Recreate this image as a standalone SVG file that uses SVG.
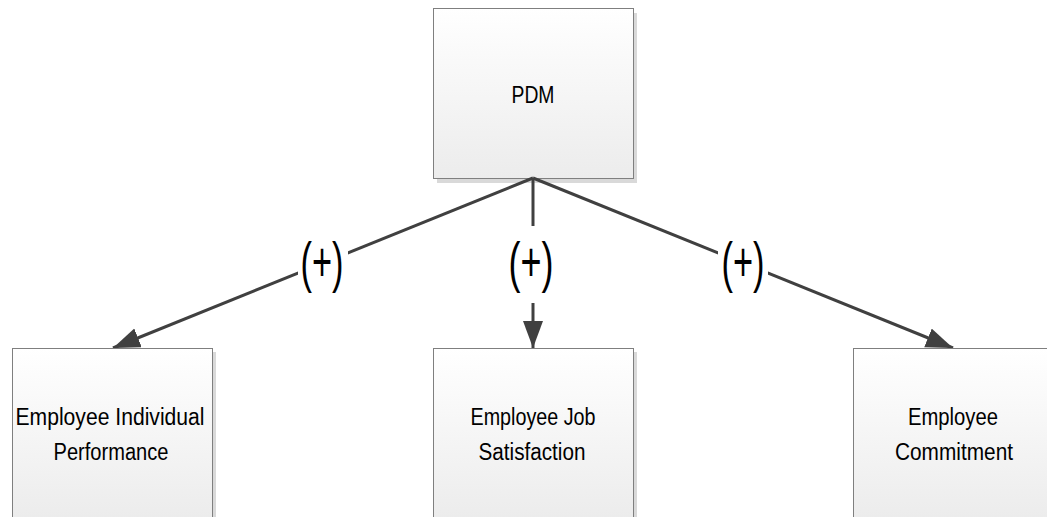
<svg xmlns="http://www.w3.org/2000/svg" width="1047" height="517" viewBox="0 0 1047 517">
  <style>
    .box { fill: url(#boxFill); stroke: #7f7f7f; stroke-width: 1; }
    .shadow { fill: #d9d9d9; }
    .label { font-family: "Liberation Sans", Arial, sans-serif; font-size: 23px; fill: #000; text-anchor: middle; }
    .sign { font-family: "Liberation Sans", Arial, sans-serif; font-size: 56px; fill: #000; text-anchor: middle; }
    .edge { stroke: #404040; stroke-width: 3; fill: none; }
    .gap { fill: #ffffff; }
  </style>
  <defs>
    <linearGradient id="boxFill" x1="0" y1="0" x2="0" y2="1">
      <stop offset="0" stop-color="#ffffff"/>
      <stop offset="1" stop-color="#ececec"/>
    </linearGradient>
    <marker id="head" markerUnits="userSpaceOnUse" markerWidth="28" markerHeight="22" refX="27" refY="10" orient="auto">
      <path d="M0,0 L27,10 L0,20 Z" fill="#404040"/>
    </marker>
  </defs>

  <rect width="1047" height="517" fill="#ffffff"/>

  <!-- source node -->
  <g id="node-pdm">
    <rect class="shadow" x="437" y="13" width="200" height="170"/>
    <rect class="box" x="433.5" y="8.5" width="200" height="170"/>
    <text class="label" x="533" y="103" textLength="43" lengthAdjust="spacingAndGlyphs">PDM</text>
  </g>

  <!-- connectors, each interrupted by its sign label -->
  <g id="connectors">
    <line class="edge" x1="533" y1="178" x2="113" y2="348" marker-end="url(#head)"/>
    <line class="edge" x1="533" y1="178" x2="533" y2="348" marker-end="url(#head)"/>
    <line class="edge" x1="533" y1="178" x2="953" y2="348" marker-end="url(#head)"/>
    <rect class="gap" x="298" y="230" width="50" height="70"/>
    <rect class="gap" x="508" y="226" width="50" height="77"/>
    <rect class="gap" x="718" y="230" width="50" height="70"/>
    <text class="sign" x="322" y="281" textLength="43" lengthAdjust="spacingAndGlyphs">(+)</text>
    <text class="sign" x="531" y="281" textLength="45" lengthAdjust="spacingAndGlyphs">(+)</text>
    <text class="sign" x="743" y="281" textLength="43" lengthAdjust="spacingAndGlyphs">(+)</text>
  </g>

  <g id="node-performance">
    <rect class="shadow" x="16" y="352" width="200" height="170"/>
    <rect class="box" x="12.5" y="348.5" width="200" height="170"/>
    <text class="label" x="110" y="425" textLength="189" lengthAdjust="spacingAndGlyphs">Employee Individual</text>
    <text class="label" x="111" y="460" textLength="115" lengthAdjust="spacingAndGlyphs">Performance</text>
  </g>

  <g id="node-satisfaction">
    <rect class="shadow" x="437" y="352" width="200" height="170"/>
    <rect class="box" x="433.5" y="348.5" width="200" height="170"/>
    <text class="label" x="533" y="425" textLength="125" lengthAdjust="spacingAndGlyphs">Employee Job</text>
    <text class="label" x="532" y="460" textLength="107" lengthAdjust="spacingAndGlyphs">Satisfaction</text>
  </g>

  <g id="node-commitment">
    <rect class="shadow" x="857" y="352" width="200" height="170"/>
    <rect class="box" x="853.5" y="348.5" width="200" height="170"/>
    <text class="label" x="953" y="425" textLength="90" lengthAdjust="spacingAndGlyphs">Employee</text>
    <text class="label" x="954" y="460" textLength="118" lengthAdjust="spacingAndGlyphs">Commitment</text>
  </g>
</svg>
